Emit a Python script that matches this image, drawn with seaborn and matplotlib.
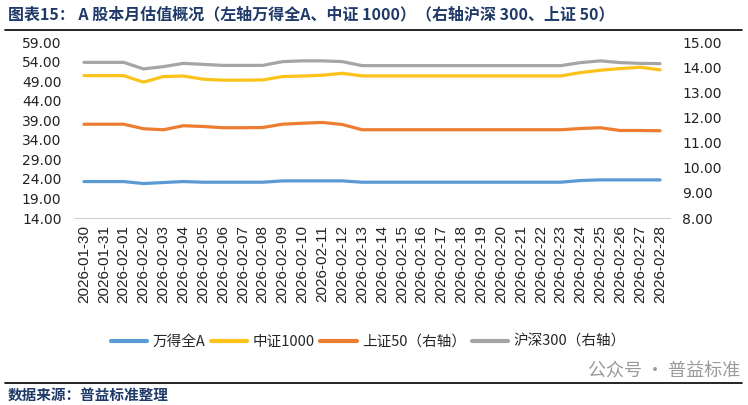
import numpy as np
import pandas as pd
import matplotlib
matplotlib.use("Agg")
import matplotlib.pyplot as plt
import seaborn as sns
from matplotlib.lines import Line2D

sns.set_theme(style="white")
plt.rcParams['font.family'] = ['Noto Sans CJK SC', 'DejaVu Sans']

dates = ["2026-01-30", "2026-01-31"] + [f"2026-02-{d:02d}" for d in range(1, 29)]

wind_a = [23.32, 23.32, 23.32, 22.81, 23.07, 23.32, 23.15, 23.15, 23.15, 23.15,
          23.49, 23.49, 23.49, 23.49, 23.15, 23.15, 23.15, 23.15, 23.15, 23.15,
          23.15, 23.15, 23.15, 23.15, 23.15, 23.58, 23.75, 23.75, 23.75, 23.75]
csi1000 = [50.40, 50.40, 50.40, 48.73, 50.17, 50.30, 49.49, 49.24, 49.24, 49.30,
           50.17, 50.30, 50.50, 51.00, 50.33, 50.33, 50.33, 50.33, 50.33, 50.33,
           50.33, 50.33, 50.33, 50.33, 50.33, 51.18, 51.78, 52.20, 52.55, 51.87]
sse50 = [11.73, 11.73, 11.73, 11.55, 11.51, 11.67, 11.64, 11.59, 11.59, 11.60,
         11.73, 11.77, 11.80, 11.72, 11.51, 11.51, 11.51, 11.51, 11.51, 11.51,
         11.51, 11.51, 11.51, 11.51, 11.51, 11.56, 11.59, 11.48, 11.48, 11.47]
hs300 = [14.19, 14.19, 14.19, 13.93, 14.02, 14.15, 14.11, 14.07, 14.07, 14.07,
         14.22, 14.25, 14.25, 14.22, 14.06, 14.06, 14.06, 14.06, 14.06, 14.06,
         14.06, 14.06, 14.06, 14.06, 14.06, 14.18, 14.25, 14.18, 14.15, 14.14]

left_ticks = [14, 19, 24, 29, 34, 39, 44, 49, 54, 59]
right_ticks = [8, 9, 10, 11, 12, 13, 14, 15]

names = ["万得全A", "中证1000", "上证50（右轴）", "沪深300（右轴）"]
colors = ["#5B9BD5", "#FBC21A", "#ED7D31", "#A5A5A5"]

df = pd.DataFrame({"idx": np.arange(len(dates)), "date": dates,
                   "wind_a": wind_a, "csi1000": csi1000,
                   "sse50": sse50, "hs300": hs300})

W, H = 748, 405
fig = plt.figure(figsize=(W / 100, H / 100), dpi=100)
ax = fig.add_axes([74 / W, 1 - 218 / H, 596 / W, 176 / H])
ax2 = ax.twinx()

lw = 2.3
sns.lineplot(data=df, x="idx", y="wind_a", ax=ax, color=colors[0], lw=lw)
sns.lineplot(data=df, x="idx", y="csi1000", ax=ax, color=colors[1], lw=lw)
sns.lineplot(data=df, x="idx", y="sse50", ax=ax2, color=colors[2], lw=lw)
sns.lineplot(data=df, x="idx", y="hs300", ax=ax2, color=colors[3], lw=lw)

ax.set_xlim(-0.5, len(dates) - 0.5)
ax.set_ylim(left_ticks[0], left_ticks[-1])
ax2.set_ylim(right_ticks[0], right_ticks[-1])
ax.set_yticks(left_ticks)
ax.set_yticklabels([f"{v:.2f}" for v in left_ticks], fontsize=10, family="DejaVu Sans", color="#222222")
ax2.set_yticks(right_ticks)
ax2.set_yticklabels([f"{v:.2f}" for v in right_ticks], fontsize=10, family="DejaVu Sans", color="#222222")
ax.set_xticks(np.arange(len(dates)))
ax.set_xticklabels(dates, rotation=90, fontsize=11, family="Liberation Sans", color="#222222")
ax.set_xticks(np.arange(-0.5, len(dates), 1), minor=True)
ax.tick_params(axis="x", which="major", length=0, pad=5)
ax.tick_params(axis="x", which="minor", length=5, color="#D0D0D0", width=0.8, direction="out")
ax.tick_params(axis="y", length=0, pad=9)
ax2.tick_params(axis="y", length=0, pad=9)
for a in (ax, ax2):
    for s in ("top", "left", "right", "bottom"):
        a.spines[s].set_visible(False)
    a.set_xlabel("")
    a.set_ylabel("")
    a.grid(False)
ax.spines["bottom"].set_visible(True)
ax.spines["bottom"].set_color("#D0D0D0")
ax.spines["bottom"].set_linewidth(0.8)

handles = [Line2D([0], [0], color=c, lw=3) for c in colors]
fig.legend(handles, names, loc="center", bbox_to_anchor=(368 / W, 1 - 342 / H),
           ncol=4, frameon=False, fontsize=10.5, handlelength=2.5,
           handletextpad=0.35, columnspacing=0.4, borderaxespad=0)

navy = "#1F3A68"
fig.text(8 / W, 1 - 14 / H,
         "图表15： A 股本月估值概况（左轴万得全A、中证 1000）（右轴沪深 300、上证 50）",
         fontsize=11.5, fontweight="bold", color=navy, va="center", ha="left")
fig.add_artist(Line2D([5 / W, 742 / W], [1 - 30 / H, 1 - 30 / H], color="black", lw=1.2))
fig.add_artist(Line2D([5 / W, 742 / W], [1 - 383 / H, 1 - 383 / H], color="black", lw=1.2))
fig.text(8 / W, 1 - 395 / H, "数据来源：普益标准整理", fontsize=10.5, fontweight="bold",
         color=navy, va="center", ha="left")
fig.text(740 / W, 1 - 372 / H, "公众号 · 普益标准", fontsize=13, color="#9A9A9A",
         va="center", ha="right")

fig.savefig("out.png", dpi=100, facecolor="white")
